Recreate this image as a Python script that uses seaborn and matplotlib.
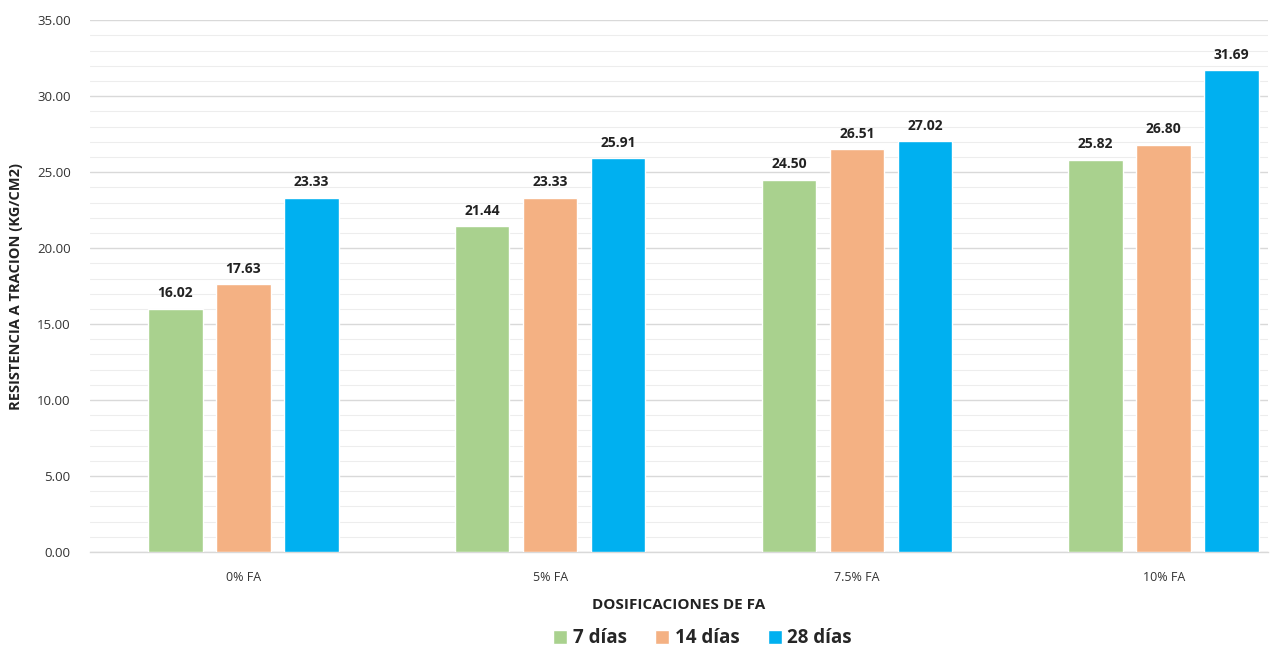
import matplotlib
matplotlib.use("Agg")
import matplotlib.pyplot as plt
from matplotlib.ticker import MultipleLocator, FormatStrFormatter
import seaborn as sns
import pandas as pd

categories = ["0% FA", "5% FA", "7.5% FA", "10% FA"]
series = ["7 días", "14 días", "28 días"]
values_7 = [16.02, 21.44, 24.50, 25.82]
values_14 = [17.63, 23.33, 26.51, 26.80]
values_28 = [23.33, 25.91, 27.02, 31.69]
colors = ["#A9D18E", "#F4B183", "#00B0F0"]

rows = []
for name, vals in zip(series, [values_7, values_14, values_28]):
    for cat, v in zip(categories, vals):
        rows.append({"dosificacion": cat, "edad": name, "valor": v})
df = pd.DataFrame(rows)

sns.set_theme(style="white")
plt.rcParams["font.family"] = ["Open Sans", "DejaVu Sans"]

fig = plt.figure(figsize=(12.72, 6.51), dpi=100)
ax = fig.add_axes([0.0708, 0.152, 0.926, 0.817])

sns.barplot(data=df, x="dosificacion", y="valor", hue="edad", order=categories,
            hue_order=series, palette=colors, width=0.665, gap=0.2,
            saturation=1, ax=ax, legend=True, zorder=3)

for cont in ax.containers:
    ax.bar_label(cont, fmt="%.2f", padding=6, fontsize=10, fontweight="bold",
                 color="#222222")

ax.set_ylim(0, 35)
ax.set_xlim(-0.5, 3.34)
ax.yaxis.set_major_locator(MultipleLocator(5))
ax.yaxis.set_minor_locator(MultipleLocator(1))
ax.yaxis.set_major_formatter(FormatStrFormatter("%.2f"))
ax.grid(axis="y", which="major", color="#D9D9D9", linewidth=1.0, zorder=0)
ax.grid(axis="y", which="minor", color="#EDEDED", linewidth=0.8, zorder=0)
ax.grid(axis="x", visible=False)

for s in ["top", "right", "left"]:
    ax.spines[s].set_visible(False)
ax.spines["bottom"].set_color("#D9D9D9")
ax.spines["bottom"].set_linewidth(1.0)

ax.tick_params(axis="y", which="both", length=0, labelsize=9.5, pad=14,
               labelcolor="#333333")
ax.tick_params(axis="x", length=0, labelsize=9, pad=14, labelcolor="#333333")

ax.set_ylabel("RESISTENCIA A TRACION (KG/CM2)", fontsize=10.5, fontweight="bold",
              color="#222222", labelpad=10)
ax.set_xlabel("DOSIFICACIONES DE FA", fontsize=11, fontweight="bold",
              color="#222222", labelpad=10)

ax.legend(loc="upper center", bbox_to_anchor=(0.52, -0.112), ncol=3,
          frameon=False, handlelength=0.75, handleheight=0.75,
          handletextpad=0.3, columnspacing=1.5,
          prop={"weight": "bold", "size": 13.5})

fig.savefig("out.png", dpi=100, facecolor="white")
